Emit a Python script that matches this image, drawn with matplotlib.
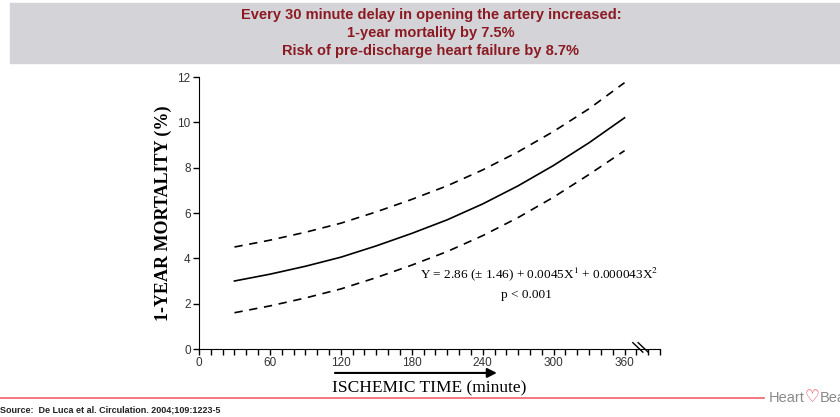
import numpy as np
import matplotlib.pyplot as plt
from matplotlib.patches import Rectangle
from matplotlib.lines import Line2D

# values (De Luca et al. 2004)
minutes = [30, 60, 90, 120, 150, 180, 210, 240, 270, 300, 330, 360]
mortality = [3.0, 3.3, 3.65, 4.05, 4.55, 5.1, 5.7, 6.4, 7.2, 8.1, 9.1, 10.2]
upper_ci = [4.5, 4.8, 5.15, 5.55, 6.05, 6.6, 7.2, 7.9, 8.7, 9.6, 10.6, 11.75]
lower_ci = [1.6, 1.9, 2.25, 2.65, 3.15, 3.7, 4.3, 5.0, 5.8, 6.7, 7.7, 8.75]

x_ticks = [0, 60, 120, 180, 240, 300, 360]
y_ticks = [0, 2, 4, 6, 8, 10, 12]

banner_lines = ["Every 30 minute delay in opening the artery increased:",
                "1-year mortality by 7.5%",
                "Risk of pre-discharge heart failure by 8.7%"]
equation = "Y = 2.86 (\u00b1 1.46) + 0.0045X$^{1}$ + 0.000043X$^{2}$"
p_text = "p < 0.001"
source = "Source:  De Luca et al. Circulation. 2004;109:1223-5"

plt.rcParams['mathtext.fontset'] = 'stix'

fig = plt.figure(figsize=(8.4, 4.17), dpi=100)
W, H = 840, 417

# grey banner with the headline
fig.patches.append(Rectangle((10 / W, 1 - 63 / H), 1 - 10 / W, 60 / H,
                             transform=fig.transFigure, color='#d4d4d8', zorder=0))
for i, line in enumerate(banner_lines):
    fig.text(431 / W, 1 - (15 + 18 * i) / H, line, ha='center', va='center',
             fontsize=10.5, fontweight='bold', color='#8b1a22', family='Liberation Sans')

# main axes
ax = fig.add_axes([199 / W, 1 - 349 / H, 461 / W, 272 / H])
ax.plot(minutes, mortality, color='black', lw=1.2)
ax.plot(minutes, upper_ci, color='black', lw=1.2, linestyle=(0, (5, 4)))
ax.plot(minutes, lower_ci, color='black', lw=1.2, linestyle=(0, (5, 4)))

ax.set_xlim(0, 390)
ax.set_ylim(0, 12)
ax.spines['top'].set_visible(False)
ax.spines['right'].set_visible(False)
ax.set_xticks(x_ticks)
ax.set_xticks(np.arange(0, 391, 10), minor=True)
ax.set_yticks(y_ticks)
ax.tick_params(axis='both', which='both', direction='out', length=4, width=1,
               labelsize=8.5, labelcolor='#333333', pad=2)
for lab in ax.get_xticklabels() + ax.get_yticklabels():
    lab.set_family('Liberation Sans')

ax.set_ylabel("1-YEAR MORTALITY (%)", family='Liberation Serif', fontweight='bold',
              fontsize=13, labelpad=4)
ax.set_xlabel("ISCHEMIC TIME (minute)", family='Liberation Serif', fontsize=12.5,
              labelpad=8)

# arrow under the x axis
ax.annotate('', xy=(252, -0.088), xytext=(115, -0.088),
            xycoords=('data', 'axes fraction'), textcoords=('data', 'axes fraction'),
            arrowprops=dict(arrowstyle='-|>', color='black', lw=1.5,
                            mutation_scale=14, shrinkA=0, shrinkB=0))

# axis break marks
for x0 in (367, 371.5):
    ax.add_line(Line2D([x0, x0 + 8.5], [0.28, -0.14], color='black', lw=1,
                       clip_on=False))

ax.text(288, 3.3, equation, ha='center', va='center', family='Liberation Serif',
        fontsize=9.5)
ax.text(277, 2.4, p_text, ha='center', va='center', family='Liberation Serif',
        fontsize=9.5)

# footer
fig.add_artist(Line2D([0, 764 / W], [1 - 398 / H] * 2, transform=fig.transFigure,
                      color='#f0606c', lw=1.2))
fig.text(769 / W, 1 - 398 / H, "Heart", ha='left', va='center', fontsize=10.5,
         color='#8a8a8a', family='Liberation Sans')
fig.text(805 / W, 1 - 397 / H, "\u2661", ha='left', va='center', fontsize=12,
         color='#e83040', family='DejaVu Sans')
fig.text(820 / W, 1 - 398 / H, "Beat", ha='left', va='center', fontsize=10.5,
         color='#8a8a8a', family='Liberation Sans', clip_on=False)
fig.text(0, 1 - 410 / H, source, ha='left', va='center', fontsize=6.5,
         fontweight='bold', color='#222222', family='Liberation Sans')

fig.savefig('out.png', dpi=100)
